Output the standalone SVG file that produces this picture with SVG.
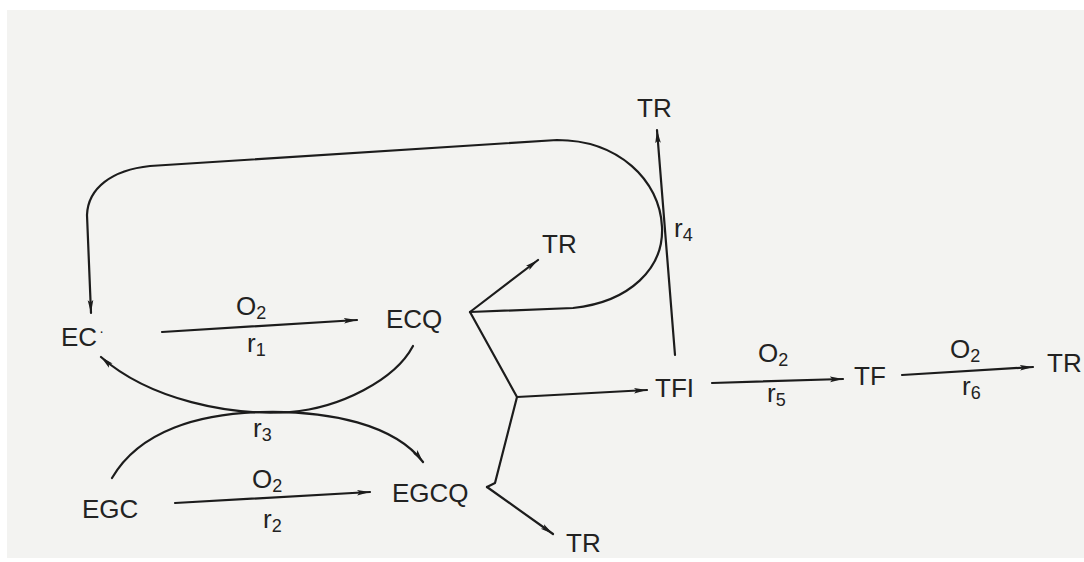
<svg xmlns="http://www.w3.org/2000/svg" width="1084" height="562" viewBox="0 0 1084 562">
<style>
.t{font-family:"Liberation Sans",Arial,Helvetica,sans-serif;font-size:26px;fill:#222}
.s{font-size:18px}
.d{font-size:14px}
.c{fill:none;stroke:#1c1c1c;stroke-width:2.2;stroke-linecap:round;stroke-linejoin:round}
.a{marker-end:url(#ah)}
</style>
<defs>
<marker id="ah" markerUnits="userSpaceOnUse" markerWidth="14" markerHeight="8" refX="13" refY="4" orient="auto">
<path d="M0,1.2 L13,4 L0,6.8 L2.5,4 Z" fill="#1c1c1c"/>
</marker>
</defs>
<rect x="0" y="0" width="1084" height="562" fill="#ffffff"/>
<rect x="7" y="10" width="1077" height="548" fill="#f3f3f1"/>

<g id="connectors">
<path class="c a" d="M470,312 L573,308 C630,302 664,268 662,227 C660,180 618,140 557,140 L150,166 C112,170 88,188 87,215 L91,313"/>
<path class="c a" d="M675,355 L657,130"/>
<path class="c a" d="M470,312 L538,260"/>
<path class="c" d="M470,312 L517,397 L495,483 L487,487"/>
<path class="c a" d="M517,397 L647,390"/>
<path class="c a" d="M487,487 L553,534"/>
<path class="c a" d="M162,332 L357,320"/>
<path class="c a" d="M175,503 L370,492"/>
<path class="c a" d="M712,383 L843,379"/>
<path class="c a" d="M902,375 L1033,367"/>
<path class="c a" d="M413,346 C395,380 340,408 290,412 C230,416 150,400 101,357"/>
<path class="c a" d="M112,478 C140,430 200,414 260,412 C330,410 395,425 423,462"/>
</g>

<g id="EC"><text class="t" x="61" y="346">EC<tspan class="d" dx="2" dy="-10">·</tspan></text></g>
<g id="ECQ"><text class="t" x="386" y="328">ECQ</text></g>
<g id="EGC"><text class="t" x="82" y="518">EGC</text></g>
<g id="EGCQ"><text class="t" x="392" y="502">EGCQ</text></g>
<g id="TFI"><text class="t" x="655" y="397">TFI</text></g>
<g id="TF"><text class="t" x="854" y="385">TF</text></g>
<g id="TR1"><text class="t" x="637" y="117">TR</text></g>
<g id="TR2"><text class="t" x="542" y="253">TR</text></g>
<g id="TR3"><text class="t" x="566" y="552">TR</text></g>
<g id="TR4"><text class="t" x="1047" y="372">TR</text></g>

<g id="labels">
<text class="t" x="236" y="315">O<tspan class="s" dy="4">2</tspan></text>
<text class="t" x="247" y="352">r<tspan class="s" dy="4">1</tspan></text>
<text class="t" x="252" y="488">O<tspan class="s" dy="4">2</tspan></text>
<text class="t" x="263" y="528">r<tspan class="s" dy="4">2</tspan></text>
<text class="t" x="253" y="437">r<tspan class="s" dy="4">3</tspan></text>
<text class="t" x="674" y="237">r<tspan class="s" dy="4">4</tspan></text>
<text class="t" x="758" y="362">O<tspan class="s" dy="4">2</tspan></text>
<text class="t" x="767" y="402">r<tspan class="s" dy="4">5</tspan></text>
<text class="t" x="950" y="358">O<tspan class="s" dy="4">2</tspan></text>
<text class="t" x="962" y="395">r<tspan class="s" dy="4">6</tspan></text>
</g>
</svg>
